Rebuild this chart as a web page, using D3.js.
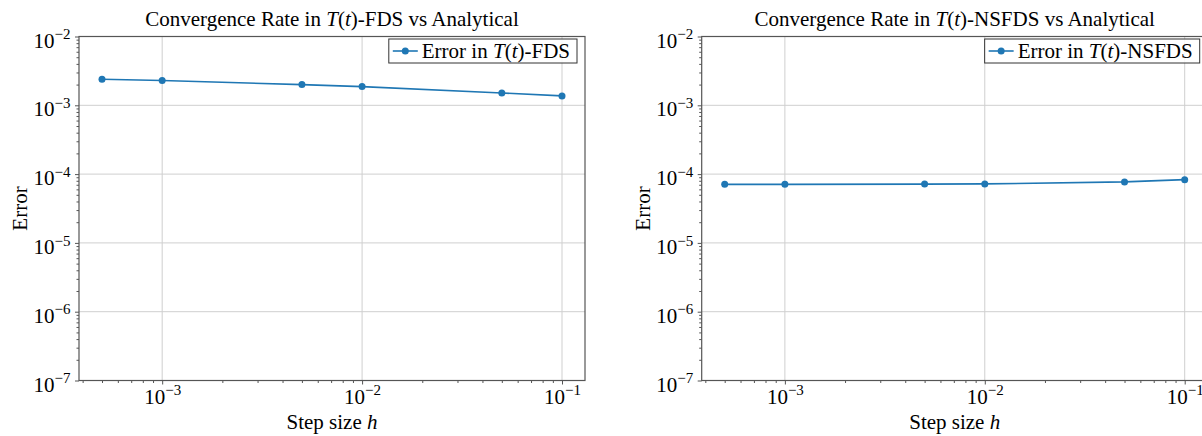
<!DOCTYPE html>
<html>
<head>
<meta charset="utf-8">
<script src="https://cdn.jsdelivr.net/npm/d3@7"></script>
<style>
  body { margin: 0; background: #fff; }
  text { font-family: "Liberation Serif", "Times New Roman", serif; fill: #000; }
</style>
</head>
<body>
<svg id="chart" width="1202" height="436"></svg>
<script>
// data
var stepSizes = [5e-4, 1e-3, 5e-3, 1e-2, 5e-2, 1e-1];
var fdsErrors = [2.39e-3, 2.29e-3, 2.0e-3, 1.87e-3, 1.51e-3, 1.37e-3];
var nsfdsErrors = [7.1e-5, 7.1e-5, 7.15e-5, 7.2e-5, 7.7e-5, 8.3e-5];
var xMajorTicks = [1e-3, 1e-2, 1e-1];
var yMajorTicks = [1e-7, 1e-6, 1e-5, 1e-4, 1e-3, 1e-2];
var titles = ["FDS", "NSFDS"];

var svg = d3.select("#chart");
var blue = "#1f77b4";

// minor ticks 2..9 x 10^k
function minors(lo, hi) {
  var out = [];
  for (var k = -8; k <= 0; k++) {
    for (var m = 2; m <= 9; m++) {
      var v = m * Math.pow(10, k);
      if (v > lo && v < hi) out.push(v);
    }
  }
  return out;
}

// label "10^-n" with superscript
function powLabel(sel) {
  sel.each(function(d) {
    var t = d3.select(this);
    var e = Math.round(Math.log10(d));
    t.text(null);
    t.append("tspan").text("10");
    t.append("tspan").attr("dy", "-0.55em").style("font-size", "15px").text("\u2212" + Math.abs(e));
  });
}

function drawPanel(x0, name, errors) {
  var left = x0, right = x0 + 506, top = 36.5, bottom = 380.5;
  var lx = Math.log10(5e-4), hx = Math.log10(1e-1), pad = (hx - lx) * 0.05;
  var x = d3.scaleLog().domain([Math.pow(10, lx - pad), Math.pow(10, hx + pad)]).range([left, right]);
  var y = d3.scaleLog().domain([1e-7, 1e-2]).range([bottom, top]);

  var g = svg.append("g");

  // grid
  g.selectAll(".gx").data(xMajorTicks).enter().append("line")
    .attr("x1", d => x(d)).attr("x2", d => x(d)).attr("y1", top).attr("y2", bottom)
    .attr("stroke", "#cfcfcf").attr("stroke-width", 1);
  g.selectAll(".gy").data(yMajorTicks).enter().append("line")
    .attr("x1", left).attr("x2", right).attr("y1", d => y(d)).attr("y2", d => y(d))
    .attr("stroke", "#cfcfcf").attr("stroke-width", 1);

  // axes
  var xAxis = g.append("g").attr("transform", "translate(0," + bottom + ")")
    .call(d3.axisBottom(x).tickValues(xMajorTicks).tickSize(4).tickPadding(6).tickFormat(d => d));
  var xMinor = g.append("g").attr("transform", "translate(0," + bottom + ")")
    .call(d3.axisBottom(x).tickValues(minors(x.domain()[0], x.domain()[1])).tickSize(2.5).tickFormat(""));
  var yAxis = g.append("g").attr("transform", "translate(" + left + ",0)")
    .call(d3.axisLeft(y).tickValues(yMajorTicks).tickSize(4).tickPadding(4.5).tickFormat(d => d));
  var yMinor = g.append("g").attr("transform", "translate(" + left + ",0)")
    .call(d3.axisLeft(y).tickValues(minors(1e-7, 1e-2)).tickSize(2.5).tickFormat(""));

  [xAxis, xMinor, yAxis, yMinor].forEach(function(a) {
    a.select(".domain").remove();
    a.selectAll("line").attr("stroke", "#555");
  });
  xAxis.selectAll("text").style("font-size", "21px").attr("dy", "0.62em").call(powLabel);
  yAxis.selectAll("text").style("font-size", "21px").attr("dy", "0.5em").call(powLabel);

  // frame
  g.append("rect").attr("x", left).attr("y", top).attr("width", right - left).attr("height", bottom - top)
    .attr("fill", "none").attr("stroke", "#555").attr("stroke-width", 1.2);

  // series
  var line = d3.line().x((d, i) => x(stepSizes[i])).y(d => y(d));
  g.append("path").datum(errors).attr("d", line)
    .attr("fill", "none").attr("stroke", blue).attr("stroke-width", 1.6);
  g.selectAll(".pt").data(errors).enter().append("circle")
    .attr("cx", (d, i) => x(stepSizes[i])).attr("cy", d => y(d)).attr("r", 3.5).attr("fill", blue);

  // title
  var title = g.append("text").attr("x", (left + right) / 2).attr("y", 26)
    .attr("text-anchor", "middle").style("font-size", "21px");
  title.append("tspan").text("Convergence Rate in ");
  title.append("tspan").style("font-style", "italic").text("T");
  title.append("tspan").text("(");
  title.append("tspan").style("font-style", "italic").text("t");
  title.append("tspan").text(")-" + name + " vs Analytical");

  // axis labels
  var xl = g.append("text").attr("x", (left + right) / 2).attr("y", 429)
    .attr("text-anchor", "middle").style("font-size", "21px");
  xl.append("tspan").text("Step size ");
  xl.append("tspan").style("font-style", "italic").text("h");
  g.append("text").attr("transform", "translate(" + (left - 52) + "," + ((top + bottom) / 2) + ") rotate(-90)")
    .attr("text-anchor", "middle").style("font-size", "21px").text("Error");

  // legend
  var lg = g.append("g");
  var lt = lg.append("text").attr("y", 58).style("font-size", "21px");
  lt.append("tspan").text("Error in ");
  lt.append("tspan").style("font-style", "italic").text("T");
  lt.append("tspan").text("(");
  lt.append("tspan").style("font-style", "italic").text("t");
  lt.append("tspan").text(")-" + name);
  var tw = lt.node().getComputedTextLength();
  var boxR = right - 8, boxL = boxR - tw - 40;
  lt.attr("x", boxL + 33);
  lg.insert("rect", "text").attr("x", boxL).attr("y", 39).attr("width", boxR - boxL).attr("height", 24)
    .attr("fill", "#fff").attr("fill-opacity", 0.85).attr("stroke", "#333").attr("stroke-width", 1);
  lg.append("line").attr("x1", boxL + 4).attr("x2", boxL + 29).attr("y1", 51).attr("y2", 51)
    .attr("stroke", blue).attr("stroke-width", 1.6);
  lg.append("circle").attr("cx", boxL + 16.5).attr("cy", 51).attr("r", 3.5).attr("fill", blue);
}

drawPanel(79, titles[0], fdsErrors);
drawPanel(701.7, titles[1], nsfdsErrors);
</script>
</body>
</html>
